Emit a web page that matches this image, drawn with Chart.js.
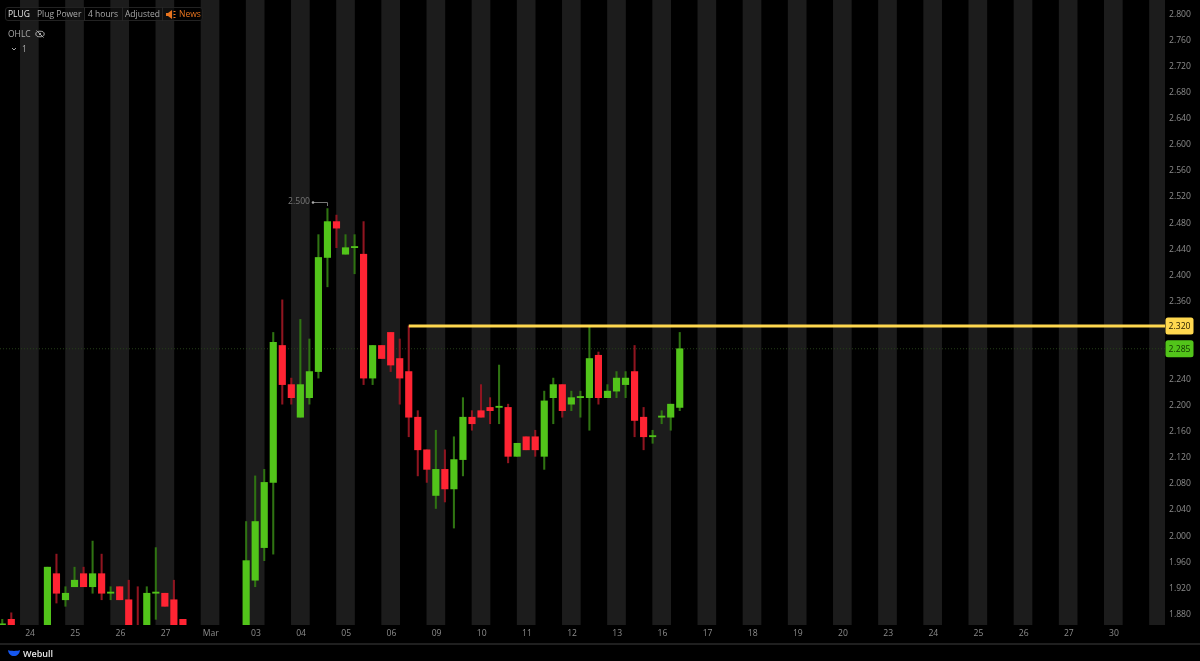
<!DOCTYPE html>
<html>
<head>
<meta charset="utf-8">
<title>PLUG 4 hours</title>
<script src="https://cdn.jsdelivr.net/npm/chart.js@4"></script>
<style>
  html, body { margin: 0; background: #000; }
  body { width: 1200px; height: 661px; position: relative; overflow: hidden; font-family: "Open Sans", sans-serif; }
  canvas { display: block; }
  .txt { position: absolute; font-size: 8.5px; line-height: 14px; color: #a8a8a8; white-space: nowrap; }
  #bar { position: absolute; left: 5px; top: 7px; width: 198px; height: 14px; border: 1px solid #222; border-radius: 3px; box-sizing: border-box; background: rgba(0, 0, 0, .45); }
  .sep { position: absolute; top: 7px; width: 1px; height: 14px; background: #262626; }
  #foot { position: absolute; left: 0; top: 643px; width: 1200px; height: 18px; border-top: 2px solid #1f1f1f; box-sizing: border-box; }
</style>
</head>
<body>
<canvas id="chart" width="1200" height="661"></canvas>

<div id="bar"></div>
<div class="sep" style="left:84px"></div>
<div class="sep" style="left:122px"></div>
<div class="sep" style="left:162px"></div>
<div class="txt" style="left:8px;top:7px;color:#e6e6e6">PLUG</div>
<div class="txt" style="left:37px;top:7px">Plug Power</div>
<div class="txt" style="left:88px;top:7px">4 hours</div>
<div class="txt" style="left:125px;top:7px">Adjusted</div>
<svg style="position:absolute;left:166px;top:10px" width="10" height="9" viewBox="0 0 10 9">
  <path d="M0 3h2l4-3v9L2 6H0z" fill="#e8741e"/>
  <path d="M7.500 1.500h2M7.500 4.500h2M7.500 7.500h2" stroke="#e8741e" stroke-width="1"/>
</svg>
<div class="txt" style="left:179px;top:7px;color:#e8741e">News</div>
<div class="txt" style="left:8px;top:27px">OHLC</div>
<svg style="position:absolute;left:35px;top:30px" width="10" height="8" viewBox="0 0 10 8">
  <ellipse cx="5" cy="4" rx="4.2" ry="2.8" fill="none" stroke="#a8a8a8" stroke-width="1"/>
  <circle cx="5" cy="4" r="1.2" fill="#a8a8a8"/>
  <path d="M1.500 0.500l7 7" stroke="#a8a8a8" stroke-width="1"/>
</svg>
<svg style="position:absolute;left:11px;top:47px" width="6" height="4" viewBox="0 0 6 4">
  <path d="M1 1l2 2 2-2" fill="none" stroke="#a8a8a8" stroke-width="1"/>
</svg>
<div class="txt" style="left:22px;top:42px">1</div>

<div id="foot"></div>
<svg style="position:absolute;left:7px;top:649px" width="14" height="8" viewBox="0 0 14 8">
  <path d="M1 1c2 1.200 10 1.200 12 0c-.5 4-3 6-6 6s-5.500-2-6-6z" fill="#1557f0"/>
</svg>
<div class="txt" style="left:23px;top:647px;color:#e8e8e8;font-weight:600;font-size:9px">Webull</div>

<script>
// Bars are 4 hours, five to a day. null = below the visible range
const opens = [1.85, 1.87, null, null, null, 1.85, 1.94, 1.90, 1.92, 1.94,
  1.92, 1.94, 1.91, 1.92, 1.90, 1.85, 1.85, 1.91, 1.91, 1.90,
  1.87, null, null, null, null, null, null, 1.85, 1.93, 1.98,
  2.08, 2.29, 2.23, 2.18, 2.21, 2.25, 2.425, 2.48, 2.43, 2.44,
  2.43, 2.24, 2.29, 2.31, 2.27, 2.25, 2.18, 2.13, 2.06, 2.10,
  2.07, 2.115, 2.18, 2.19, 2.195, 2.195, 2.195, 2.12, 2.15, 2.15,
  2.12, 2.21, 2.23, 2.20, 2.21, 2.21, 2.275, 2.21, 2.22, 2.23,
  2.25, 2.18, 2.15, 2.18, 2.18, 2.195];
const highs = [1.87, 1.88, null, null, null, 1.95, 1.97, 1.92, 1.95, 1.95,
  1.99, 1.97, 1.92, 1.92, 1.93, 1.92, 1.92, 1.98, 1.91, 1.93,
  1.87, null, null, null, null, null, null, 2.02, 2.09, 2.10,
  2.31, 2.36, 2.24, 2.33, 2.30, 2.46, 2.50, 2.49, 2.46, 2.46,
  2.48, 2.29, 2.29, 2.31, 2.30, 2.32, 2.19, 2.13, 2.16, 2.13,
  2.15, 2.21, 2.19, 2.23, 2.21, 2.26, 2.20, 2.14, 2.15, 2.16,
  2.22, 2.24, 2.23, 2.22, 2.22, 2.32, 2.28, 2.23, 2.25, 2.25,
  2.29, 2.195, 2.16, 2.19, 2.20, 2.31];
const lows = [1.85, 1.85, null, null, null, 1.85, 1.895, 1.89, 1.92, 1.92,
  1.91, 1.90, 1.90, 1.90, 1.85, 1.84, 1.85, 1.87, 1.89, 1.85,
  1.85, null, null, null, null, null, null, 1.85, 1.92, 1.96,
  1.97, 2.20, 2.20, 2.18, 2.20, 2.24, 2.38, 2.44, 2.43, 2.40,
  2.23, 2.23, 2.27, 2.25, 2.20, 2.15, 2.09, 2.08, 2.04, 2.05,
  2.01, 2.09, 2.16, 2.18, 2.17, 2.17, 2.11, 2.12, 2.13, 2.12,
  2.10, 2.17, 2.18, 2.19, 2.18, 2.16, 2.20, 2.21, 2.21, 2.21,
  2.15, 2.13, 2.14, 2.17, 2.16, 2.19];
const closes = [1.85, 1.85, null, null, null, 1.95, 1.91, 1.91, 1.93, 1.92,
  1.94, 1.91, 1.91, 1.90, 1.85, 1.84, 1.91, 1.91, 1.89, 1.85,
  1.85, null, null, null, null, null, null, 1.96, 2.02, 2.08,
  2.295, 2.23, 2.21, 2.23, 2.25, 2.425, 2.48, 2.47, 2.44, 2.44,
  2.24, 2.29, 2.27, 2.26, 2.24, 2.18, 2.13, 2.10, 2.10, 2.07,
  2.115, 2.18, 2.17, 2.18, 2.19, 2.195, 2.12, 2.14, 2.13, 2.13,
  2.205, 2.23, 2.19, 2.21, 2.21, 2.27, 2.21, 2.22, 2.24, 2.24,
  2.175, 2.15, 2.15, 2.18, 2.20, 2.285];

const xLabels = ['24', '25', '26', '27', 'Mar', '03', '04', '05', '06', '09', '10', '11', '12',
  '13', '16', '17', '18', '19', '20', '23', '24', '25', '26', '27', '30'];
const xTickBars = [3, 8, 13, 18, 23, 28, 33, 38, 43, 48, 53, 58, 63,
  68, 73, 78, 83, 88, 93, 98, 103, 108, 113, 118, 123];
const bandBars = [3, 8, 13, 18, 23, 28, 33, 38, 43, 48, 53, 58, 63,
  68, 73, 78, 83, 88, 93, 98, 103, 108, 113, 118, 123, 128];
const yTicks = [2.8, 2.76, 2.72, 2.68, 2.64, 2.6, 2.56, 2.52, 2.48, 2.44, 2.4, 2.36,
  2.24, 2.2, 2.16, 2.12, 2.08, 2.04, 2, 1.96, 1.92, 1.88];

const lastPrice = 2.285;
const levelPrice = 2.32;
const levelStartBar = 45;
const peakBar = 36;
const peakPrice = 2.5;

const xMin = -0.25, xMax = 128.72;
const yMin = 1.8613, yMax = 2.8199;

const GREEN = '#52c41a', RED = '#ff2433';
const GREEN_WICK = '#2f7312', RED_WICK = '#8f1520';
const YELLOW = '#ffd84f', GREY = '#8c8c8c';
const FONT = '"Open Sans", sans-serif';

const candles = opens.map((o, i) => ({ i, o, h: highs[i], l: lows[i], c: closes[i] })).filter(k => k.o !== null);
const isUp = k => k.c >= k.o;

// draws what the scales can't: the right side price tags and the peak note
const overlayPlugin = {
  id: 'overlay',
  afterDraw(chart) {
    const { ctx, scales: { x, y } } = chart;
    const tag = (value, bg, fg) => {
      const py = y.getPixelForValue(value);
      ctx.fillStyle = bg;
      ctx.beginPath();
      ctx.roundRect(1165.5, py - 8.5, 28, 17, 2.5);
      ctx.fill();
      ctx.fillStyle = fg;
      ctx.font = '8.6px ' + FONT;
      ctx.textAlign = 'center';
      ctx.textBaseline = 'middle';
      ctx.fillText(value.toFixed(3), 1179.5, py + 1);
    };
    ctx.save();
    tag(levelPrice, YELLOW, '#2a2000');
    tag(lastPrice, GREEN, '#0f3300');

    // 2.500 peak note
    const px = x.getPixelForValue(peakBar);
    const py = y.getPixelForValue(peakPrice);
    ctx.strokeStyle = '#777';
    ctx.lineWidth = 1;
    ctx.beginPath();
    ctx.moveTo(312, Math.round(py - 7) + 0.5);
    ctx.lineTo(Math.round(px) + 0.5, Math.round(py - 7) + 0.5);
    ctx.lineTo(Math.round(px) + 0.5, Math.round(py - 3));
    ctx.stroke();
    ctx.fillStyle = '#aaa';
    ctx.beginPath();
    ctx.arc(313, Math.round(py - 7) + 0.5, 1.3, 0, Math.PI * 2);
    ctx.fill();
    ctx.fillStyle = '#777';
    ctx.font = '8.6px ' + FONT;
    ctx.textAlign = 'right';
    ctx.textBaseline = 'middle';
    ctx.fillText(peakPrice.toFixed(3), 310, py - 7);
    ctx.restore();
  }
};

new Chart(document.getElementById('chart'), {
  type: 'bar',
  data: {
    datasets: [
      {
        label: 'bands',
        order: 5,
        barThickness: 18,
        backgroundColor: '#1c1c1c',
        data: bandBars.map(b => ({ x: b, y: [yMin, yMax] }))
      },
      {
        type: 'line',
        label: 'last',
        order: 4,
        borderColor: '#263f18',
        borderWidth: 1,
        borderDash: [1, 2],
        pointRadius: 0,
        data: [{ x: xMin, y: lastPrice }, { x: xMax, y: lastPrice }]
      },
      {
        label: 'wicks',
        order: 3,
        barThickness: 1.4,
        backgroundColor: candles.map(k => isUp(k) ? GREEN_WICK : RED_WICK),
        data: candles.map(k => ({ x: k.i, y: [k.l, k.h] }))
      },
      {
        label: 'bodies',
        order: 2,
        barThickness: 6.5,
        minBarLength: 1.2,
        backgroundColor: candles.map(k => isUp(k) ? GREEN : RED),
        data: candles.map(k => ({ x: k.i, y: [k.o, k.c] }))
      },
      {
        type: 'line',
        label: 'level',
        order: 1,
        borderColor: YELLOW,
        borderWidth: 3,
        pointRadius: 0,
        data: [{ x: levelStartBar, y: levelPrice }, { x: xMax, y: levelPrice }]
      }
    ]
  },
  options: {
    responsive: false,
    animation: false,
    events: [],
    layout: { padding: 0 },
    plugins: { legend: { display: false }, tooltip: { enabled: false } },
    datasets: { bar: { grouped: false } },
    scales: {
      x: {
        type: 'linear',
        offset: false,
        min: xMin,
        max: xMax,
        grid: { display: false, drawTicks: false },
        border: { display: false },
        afterBuildTicks(scale) { scale.ticks = xTickBars.map(v => ({ value: v })); },
        afterFit(scale) {
          scale.height = 36;
          scale.paddingLeft = 0;
          scale.paddingRight = 0;
        },
        ticks: {
          autoSkip: false,
          maxRotation: 0,
          padding: 3,
          labelOffset: 0.7,
          color: GREY,
          font: { family: FONT, size: 8.6 },
          callback: (value, index) => xLabels[index]
        }
      },
      y: {
        type: 'linear',
        position: 'right',
        min: yMin,
        max: yMax,
        grid: { display: false, drawTicks: false },
        border: { display: false },
        afterBuildTicks(scale) { scale.ticks = yTicks.map(v => ({ value: v })); },
        afterFit(scale) {
          scale.width = 35;
          scale.paddingTop = 0;
          scale.paddingBottom = 0;
        },
        ticks: {
          autoSkip: false,
          padding: 4,
          labelOffset: 1.5,
          color: GREY,
          font: { family: FONT, size: 8.6 },
          callback: value => value.toFixed(3)
        }
      }
    }
  },
  plugins: [overlayPlugin]
});
</script>
</body>
</html>
